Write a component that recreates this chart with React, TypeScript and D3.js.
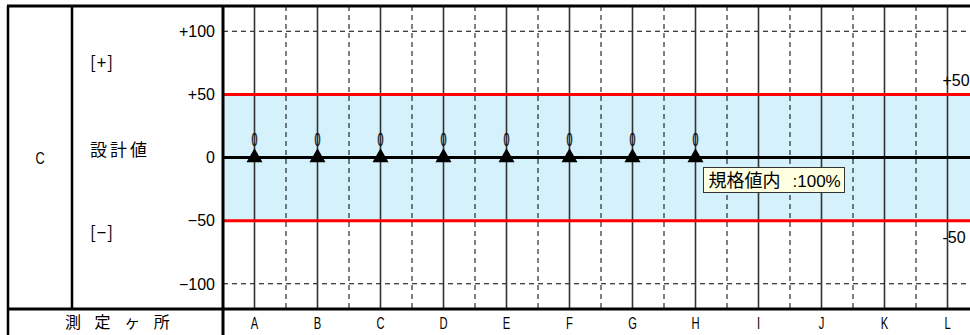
import * as d3 from 'd3';

// measuring points along the section
const categories = ['A', 'B', 'C', 'D', 'E', 'F', 'G', 'H', 'I', 'J', 'K', 'L'];
// measured deviation from design value (only A..H measured)
const measuredPoints = ['A', 'B', 'C', 'D', 'E', 'F', 'G', 'H'];
const measuredValues = [0, 0, 0, 0, 0, 0, 0, 0];
const yTicks = [100, 50, 0, -50, -100];
const yTickLabels = ['+100', '+50', '0', '\u221250', '\u2212100'];
const toleranceLimits = [50, -50];
const toleranceLabels = ['+50', '-50'];
const sectionName = 'C';
const passRateName = '規格値内';
const passRateValue = ':100%';

const W = 970;
const H = 335;
const frameLeft = 8;
const frameTop = 6;
const divider = 72;
const plotLeft = 223;
const plotBottom = 309;

const jpFont = '"Noto Sans CJK JP", "Noto Sans", sans-serif';
const numFont = '"Liberation Sans", Arial, sans-serif';

// horizontally squeezed text, like the narrow gothic of the original
const squeeze = (cx: number, k: number) => `translate(${cx},0) scale(${k},1) translate(${-cx},0)`;

export default function App() {
  const x = d3.scaleBand()
    .domain(categories)
    .range([plotLeft, plotLeft + 63 * categories.length]);

  const y = d3.scaleLinear()
    .domain([-120, 120])
    .range([plotBottom, frameTop]);

  const cx = (c: string) => (x(c) as number) + x.bandwidth() / 2;

  const tri = d3.symbol().type(d3.symbolTriangle).size(112)();

  const lastPoint = measuredPoints[measuredPoints.length - 1];
  const boxX = cx(lastPoint) + 8;
  const boxY = y(0) + 10;
  const lastCat = categories[categories.length - 1];

  return (
    <svg width={W} height={H} style={{ position: 'absolute', left: 0, top: 0, background: '#fff' }}>
      {/* tolerance band */}
      <rect
        x={plotLeft}
        y={y(d3.max(toleranceLimits) as number)}
        width={W - plotLeft}
        height={y(d3.min(toleranceLimits) as number) - y(d3.max(toleranceLimits) as number)}
        fill="#D5F1FC"
      />

      {/* dashed horizontal grid at +-100 */}
      {yTicks.filter(t => Math.abs(t) === 100).map(t => (
        <line key={'h' + t} x1={plotLeft} x2={W} y1={y(t)} y2={y(t)}
          stroke="#000" strokeWidth={1} strokeDasharray="5,4" />
      ))}

      {/* dashed vertical grid between points */}
      {categories.map(c => (
        <line key={'d' + c} x1={(x(c) as number) + x.bandwidth()} x2={(x(c) as number) + x.bandwidth()}
          y1={frameTop} y2={plotBottom} stroke="#000" strokeWidth={1} strokeDasharray="5,4" />
      ))}

      {/* solid lines at each measuring point */}
      {categories.map(c => (
        <line key={'s' + c} x1={cx(c)} x2={cx(c)} y1={frameTop} y2={plotBottom}
          stroke="#333" strokeWidth={1.6} />
      ))}

      {/* tolerance limits */}
      {toleranceLimits.map(t => (
        <line key={'r' + t} x1={plotLeft} x2={W} y1={y(t)} y2={y(t)} stroke="#FF0000" strokeWidth={3} />
      ))}

      {/* design value line */}
      <line x1={plotLeft} x2={W} y1={y(0)} y2={y(0)} stroke="#000" strokeWidth={3} />

      {/* measured markers */}
      {measuredPoints.map((c, i) => (
        <g key={'m' + c}>
          <path d={tri as string} transform={`translate(${cx(c)},${y(measuredValues[i])})`} fill="#000" />
          <text x={cx(c)} y={y(measuredValues[i]) - 11} textAnchor="middle"
            fontFamily={numFont} fontSize={18} fill="#111" stroke="#111" strokeWidth={0.4}
            transform={squeeze(cx(c), 0.6)}>
            {measuredValues[i]}
          </text>
        </g>
      ))}

      {/* right side tolerance labels */}
      <text x={cx(lastCat) - 5} y={y(toleranceLimits[0]) - 8} fontFamily={numFont} fontSize={16} fill="#000">
        {toleranceLabels[0]}
      </text>
      <text x={cx(lastCat) - 5} y={y(toleranceLimits[1]) + 22} fontFamily={numFont} fontSize={16} fill="#000">
        {toleranceLabels[1]}
      </text>

      {/* pass-rate annotation */}
      <rect x={boxX} y={boxY} width={141} height={25} fill="#FFFFE1" stroke="#333" strokeWidth={1} />
      <text x={boxX + 5} y={boxY + 19} fontFamily={jpFont} fontSize={18} fill="#000">
        {passRateName}
        <tspan dx={12} fontFamily={numFont} fontSize={17}>{passRateValue}</tspan>
      </text>

      {/* y axis tick labels */}
      {yTicks.map((t, i) => (
        <text key={'t' + t} x={plotLeft - 8} y={y(t)} dy="0.36em" textAnchor="end"
          fontFamily={numFont} fontSize={16} fill="#000">
          {yTickLabels[i]}
        </text>
      ))}

      {/* left header cells */}
      <text x={40} y={y(0)} dy="0.36em" textAnchor="middle" fontFamily={numFont} fontSize={17}
        transform={squeeze(40, 0.75)}>{sectionName}</text>
      <text x={90} y={y(75)} dy="0.36em" fontFamily={jpFont} fontSize={17} letterSpacing={1}>[+]</text>
      <text x={90} y={y(6)} dy="0.36em" fontFamily={jpFont} fontSize={17} letterSpacing={3}>設計値</text>
      <text x={90} y={y(-60)} dy="0.36em" fontFamily={jpFont} fontSize={17} letterSpacing={1}>[−]</text>

      {/* bottom row labels */}
      <text x={65} y={322} dy="0.36em" fontFamily={jpFont} fontSize={16} letterSpacing={5}>測 定 ヶ 所</text>
      {categories.map(c => (
        <text key={'b' + c} x={cx(c)} y={323} dy="0.36em" textAnchor="middle"
          fontFamily={numFont} fontSize={16} fill="#000" transform={squeeze(cx(c), 0.7)}>
          {c}
        </text>
      ))}

      {/* frame */}
      <line x1={frameLeft - 1} x2={W} y1={frameTop} y2={frameTop} stroke="#000" strokeWidth={3} />
      <line x1={frameLeft} x2={frameLeft} y1={frameTop} y2={H} stroke="#000" strokeWidth={2.5} />
      <line x1={divider} x2={divider} y1={frameTop} y2={plotBottom} stroke="#000" strokeWidth={2.5} />
      <line x1={plotLeft} x2={plotLeft} y1={frameTop} y2={H} stroke="#000" strokeWidth={3} />
      <line x1={frameLeft} x2={W} y1={plotBottom} y2={plotBottom} stroke="#000" strokeWidth={3} />
    </svg>
  );
}
